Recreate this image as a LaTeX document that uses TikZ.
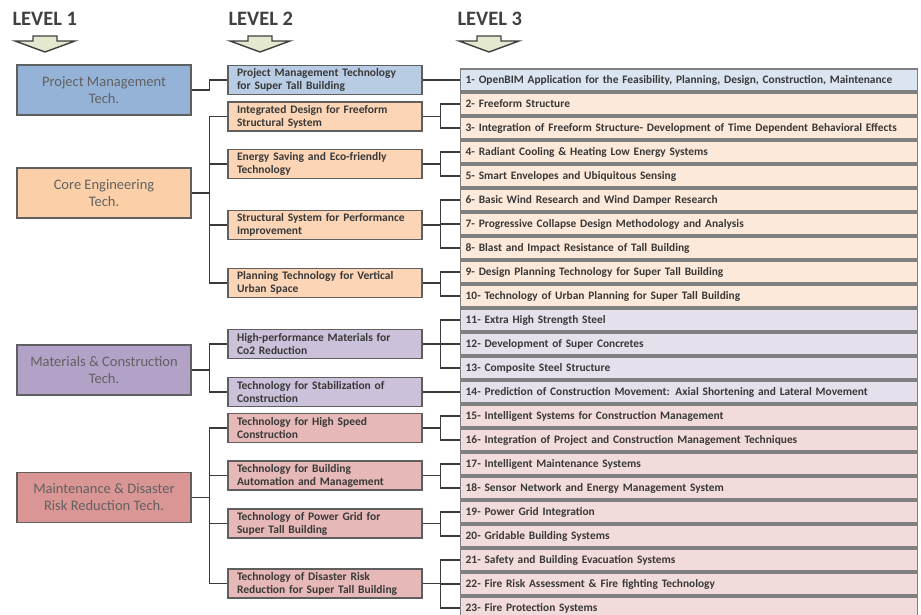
\documentclass[tikz,border=0pt]{standalone}
\usepackage{fontspec}
\setmainfont{Carlito}
\definecolor{bordc}{HTML}{5F5F5F}
\definecolor{linec}{HTML}{3A3A3A}
\definecolor{headc}{HTML}{404040}
\definecolor{arrowfill}{HTML}{E4E8CF}
\definecolor{blueA}{HTML}{95B3D7}
\definecolor{blueB}{HTML}{B8CCE4}
\definecolor{blueC}{HTML}{DBE5F1}
\definecolor{orangeA}{HTML}{FBD0A8}
\definecolor{orangeB}{HTML}{FBD5B5}
\definecolor{orangeC}{HTML}{FDE9D9}
\definecolor{purpleA}{HTML}{B3A2C7}
\definecolor{purpleB}{HTML}{CCC1DA}
\definecolor{purpleC}{HTML}{E5E0EC}
\definecolor{redA}{HTML}{D99694}
\definecolor{redB}{HTML}{E6B9B8}
\definecolor{redC}{HTML}{F2DCDB}
\tikzset{
  lvone/.style={draw=bordc, line width=1.3pt, minimum width=174pt, minimum height=50pt,
    align=center, text=black!62, font=\fontsize{14.5}{17}\selectfont},
  lvtwo/.style={draw=bordc, line width=1.3pt, minimum width=194pt, minimum height=29pt,
    text width=176pt, inner xsep=9pt, inner ysep=1pt, align=left, text=black!78, font=\fontsize{11.5}{13}\bfseries\selectfont},
  lvthree/.style={draw=black!50, line width=1.4pt, anchor=west, minimum width=457pt, minimum height=22pt,
    text width=447pt, inner xsep=5pt, align=left, text=black!78, font=\fontsize{11.4}{12}\bfseries\selectfont},
  conn/.style={draw=linec, line width=1.2pt},
  hdr/.style={anchor=west, text=headc, font=\fontsize{20.5}{23}\bfseries\selectfont},
  downarrow/.style={draw=headc, fill=arrowfill, line width=1.4pt, line join=miter}
}
\begin{document}
\begin{tikzpicture}[x=1pt, y=-1pt]
\useasboundingbox (0,0) rectangle (921,615);
% headers
\node[hdr] (h1) at (9,19) {LEVEL 1};
\node[hdr] (h2) at (225,19) {LEVEL 2};
\node[hdr] (h3) at (454,19) {LEVEL 3};
% arrows
\foreach \cx in {45,260,489}{
  \draw[downarrow] (\cx-12,36) -- (\cx+12,36) -- (\cx+12,41) -- (\cx+30,41) -- (\cx,52) -- (\cx-30,41) -- (\cx-12,41) -- cycle;
}
% level 1
\node[lvone, fill=blueA] (a1) at (104,90) {Project Management\\Tech.};
\node[lvone, fill=orangeA] (a2) at (104,193) {Core Engineering\\Tech.};
\node[lvone, fill=purpleA] (a3) at (104,370) {Materials \& Construction\\Tech.};
\node[lvone, fill=redA] (a4) at (104,497.5) {Maintenance \& Disaster\\Risk Reduction Tech.};
% level 2
\node[lvtwo, fill=blueB] (b1) at (325,80) {Project Management Technology\\for Super Tall Building};
\node[lvtwo, fill=orangeB] (b2) at (325,116.5) {Integrated Design for Freeform\\Structural System};
\node[lvtwo, fill=orangeB] (b3) at (325,164) {Energy Saving and Eco-friendly\\Technology};
\node[lvtwo, fill=orangeB] (b4) at (325,225) {Structural System for Performance\\Improvement};
\node[lvtwo, fill=orangeB] (b5) at (325,283) {Planning Technology for Vertical\\Urban Space};
\node[lvtwo, fill=purpleB] (b6) at (325,344) {High-performance Materials for\\Co2 Reduction};
\node[lvtwo, fill=purpleB] (b7) at (325,392) {Technology for Stabilization of\\Construction};
\node[lvtwo, fill=redB] (b8) at (325,428) {Technology for High Speed\\Construction};
\node[lvtwo, fill=redB] (b9) at (325,475.5) {Technology for Building\\Automation and Management};
\node[lvtwo, fill=redB] (b10) at (325,523.5) {Technology of Power Grid for\\Super Tall Building};
\node[lvtwo, fill=redB] (b11) at (325,583.5) {Technology of Disaster Risk\\Reduction for Super Tall Building};
% level 3
\node[lvthree, fill=blueC] (c1) at (460,80) {1- OpenBIM Application for the Feasibility, Planning, Design, Construction, Maintenance};
\node[lvthree, fill=orangeC] (c2) at (460,104) {2- Freeform Structure};
\node[lvthree, fill=orangeC] (c3) at (460,128) {3- Integration of Freeform Structure- Development of Time Dependent Behavioral Effects};
\node[lvthree, fill=orangeC] (c4) at (460,152) {4- Radiant Cooling \& Heating Low Energy Systems};
\node[lvthree, fill=orangeC] (c5) at (460,176) {5- Smart Envelopes and Ubiquitous Sensing};
\node[lvthree, fill=orangeC] (c6) at (460,200) {6- Basic Wind Research and Wind Damper Research};
\node[lvthree, fill=orangeC] (c7) at (460,224) {7- Progressive Collapse Design Methodology and Analysis};
\node[lvthree, fill=orangeC] (c8) at (460,248) {8- Blast and Impact Resistance of Tall Building};
\node[lvthree, fill=orangeC] (c9) at (460,272) {9- Design Planning Technology for Super Tall Building};
\node[lvthree, fill=orangeC] (c10) at (460,296) {10- Technology of Urban Planning for Super Tall Building};
\node[lvthree, fill=purpleC] (c11) at (460,320) {11- Extra High Strength Steel};
\node[lvthree, fill=purpleC] (c12) at (460,344) {12- Development of Super Concretes};
\node[lvthree, fill=purpleC] (c13) at (460,368) {13- Composite Steel Structure};
\node[lvthree, fill=purpleC] (c14) at (460,392) {14- Prediction of Construction Movement: Axial Shortening and Lateral Movement};
\node[lvthree, fill=redC] (c15) at (460,416) {15- Intelligent Systems for Construction Management};
\node[lvthree, fill=redC] (c16) at (460,440) {16- Integration of Project and Construction Management Techniques};
\node[lvthree, fill=redC] (c17) at (460,464) {17- Intelligent Maintenance Systems};
\node[lvthree, fill=redC] (c18) at (460,488) {18- Sensor Network and Energy Management System};
\node[lvthree, fill=redC] (c19) at (460,512) {19- Power Grid Integration};
\node[lvthree, fill=redC] (c20) at (460,536) {20- Gridable Building Systems};
\node[lvthree, fill=redC] (c21) at (460,560) {21- Safety and Building Evacuation Systems};
\node[lvthree, fill=redC] (c22) at (460,584) {22- Fire Risk Assessment \& Fire fighting Technology};
\node[lvthree, fill=redC] (c23) at (460,608) {23- Fire Protection Systems};
% level 1 -> level 2
\foreach \p/\c in {a1/b1, a2/b2, a2/b3, a2/b4, a2/b5, a3/b6, a3/b7, a4/b8, a4/b9, a4/b10, a4/b11}{
  \draw[conn] (\p.east) -- ++(18pt,0) |- (\c.west);
}
% level 2 -> level 3
\foreach \p/\c in {b1/c1, b2/c2, b2/c3, b3/c4, b3/c5, b4/c6, b4/c7, b4/c8, b5/c9, b5/c10,
  b6/c11, b6/c12, b6/c13, b7/c14, b8/c15, b8/c16, b9/c17, b9/c18, b10/c19, b10/c20,
  b11/c21, b11/c22, b11/c23}{
  \draw[conn] (\p.east) -- ++(18pt,0) |- (\c.west);
}
\end{tikzpicture}
\end{document}
